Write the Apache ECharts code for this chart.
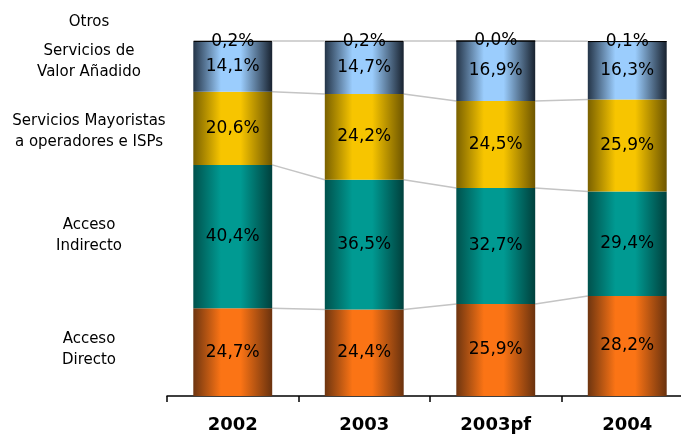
<!DOCTYPE html>
<html>
<head>
<meta charset="utf-8">
<style>
  html, body { margin: 0; padding: 0; background: #ffffff; }
  #chart { width: 681px; height: 437px; }
</style>
<script src="https://cdn.jsdelivr.net/npm/echarts@6/dist/echarts.min.js"></script>
</head>
<body>
<div id="chart"></div>
<script>
// Years on the horizontal axis
const years = ['2002', '2003', '2003pf', '2004'];

// Revenue share by business line (%), bottom to top of each stack
const accesoDirecto   = [24.7, 24.4, 25.9, 28.2];
const accesoIndirecto = [40.4, 36.5, 32.7, 29.4];
const mayoristas      = [20.6, 24.2, 24.5, 25.9];
const valorAnadido    = [14.1, 14.7, 16.9, 16.3];
const otros           = [0.2, 0.2, 0.0, 0.1];

// Names shown at the left of the stacks
const seriesNames = [
  'Acceso\nDirecto',
  'Acceso\nIndirecto',
  'Servicios Mayoristas\na operadores e ISPs',
  'Servicios de\nValor Añadido',
  'Otros'
];

const FONT = 'DejaVu Sans';
const BAR_RATIO = 0.6;

function cylinder(dark, bright, darker) {
  return new echarts.graphic.LinearGradient(0, 0, 1, 0, [
    { offset: 0, color: dark },
    { offset: 0.35, color: bright },
    { offset: 0.6, color: bright },
    { offset: 1, color: darker }
  ]);
}

function pct(v) {
  return v.toFixed(1).replace('.', ',') + '%';
}

const stacks = [
  { data: accesoDirecto,   fill: cylinder('#6e3510', '#fb7415', '#6a320e') },
  { data: accesoIndirecto, fill: cylinder('#00514c', '#009a92', '#00403c') },
  { data: mayoristas,      fill: cylinder('#7a6100', '#f7c500', '#6e5600') },
  { data: valorAnadido,    fill: cylinder('#243447', '#9bcdfd', '#18222f') },
  { data: otros,           fill: '#000000' }
];

const barSeries = stacks.map((s, k) => ({
  type: 'bar',
  name: seriesNames[k],
  stack: 'total',
  barWidth: (BAR_RATIO * 100) + '%',
  data: s.data,
  itemStyle: k === 4
    ? { color: '#000000', borderColor: '#000000', borderWidth: 1 }
    : { color: s.fill },
  label: {
    show: true,
    position: 'inside',
    color: '#000000',
    fontFamily: FONT,
    fontSize: 17,
    formatter: p => pct(p.value)
  },
  z: 3
}));

// Cumulative levels at the boundaries between stacked segments
const levels = years.map((_, i) => {
  const a = accesoDirecto[i];
  const b = a + accesoIndirecto[i];
  const c = b + mayoristas[i];
  const top = c + valorAnadido[i] + otros[i];
  return [a, b, c, top];
});

// Connector segments between neighbouring bars: [fromIndex, level index]
const connectorData = [];
for (let i = 0; i < years.length - 1; i++) {
  for (let l = 0; l < 4; l++) connectorData.push([i, l]);
}

const connectorSeries = {
  type: 'custom',
  data: connectorData,
  silent: true,
  z: 1,
  renderItem: function (params, api) {
    const i = api.value(0);
    const l = api.value(1);
    const half = api.size([1, 0])[0] * BAR_RATIO / 2;
    const a = api.coord([i, levels[i][l]]);
    const b = api.coord([i + 1, levels[i + 1][l]]);
    return {
      type: 'line',
      shape: { x1: a[0] + half, y1: a[1], x2: b[0] - half, y2: b[1] },
      style: { stroke: '#c4c4c4', lineWidth: 1.5 }
    };
  }
};

const chart = echarts.init(document.getElementById('chart'), null, { renderer: 'canvas' });

function sideLabel(text, y) {
  return {
    type: 'text', x: 89, y: y,
    style: {
      text: text, font: '15px ' + FONT, fill: '#000',
      align: 'center', verticalAlign: 'middle', lineHeight: 21
    }
  };
}

chart.setOption({
  animation: false,
  backgroundColor: '#ffffff',
  grid: { left: 167, top: 41, width: 526, bottom: 41, containLabel: false, outerBoundsMode: 'none' },
  xAxis: {
    type: 'category',
    data: years,
    axisLine: { lineStyle: { color: '#000000', width: 1.5 } },
    axisTick: { show: true, length: 6, lineStyle: { color: '#000000', width: 1.5 } },
    axisLabel: {
      color: '#000000',
      fontFamily: FONT,
      fontWeight: 'bold',
      fontSize: 18,
      margin: 20
    }
  },
  yAxis: {
    type: 'value',
    min: 0,
    max: 100,
    show: false
  },
  graphic: [
    sideLabel(seriesNames[4], 22),
    sideLabel(seriesNames[3], 62),
    sideLabel(seriesNames[2], 132),
    sideLabel(seriesNames[1], 236),
    sideLabel(seriesNames[0], 350)
  ],
  series: [connectorSeries].concat(barSeries)
});
</script>
</body>
</html>
